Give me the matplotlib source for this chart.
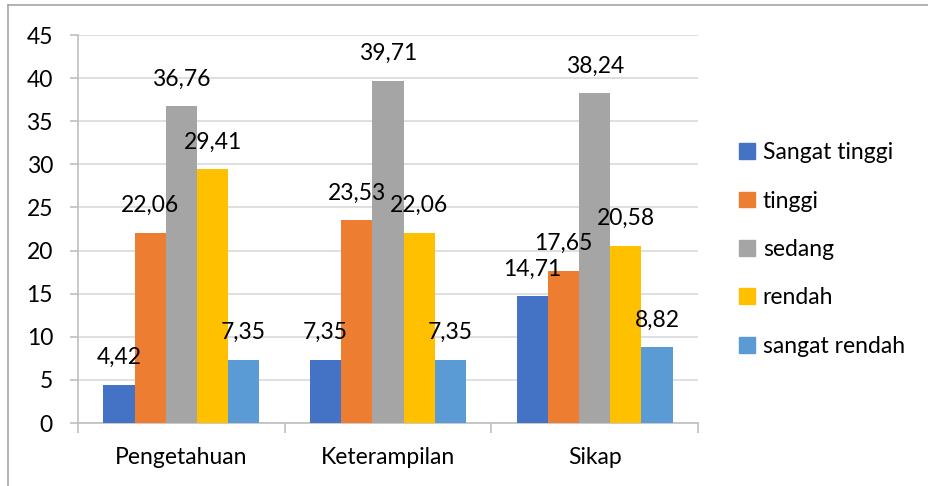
import matplotlib
matplotlib.use("Agg")
import matplotlib.pyplot as plt
from matplotlib.lines import Line2D
from matplotlib.patches import Patch
import numpy as np

plt.rcParams['font.family'] = ['Lato', 'DejaVu Sans']

categories = ["Pengetahuan", "Keterampilan", "Sikap"]
series_names = ["Sangat tinggi", "tinggi", "sedang", "rendah", "sangat rendah"]
sangat_tinggi = [4.42, 7.35, 14.71]
tinggi = [22.06, 23.53, 17.65]
sedang = [36.76, 39.71, 38.24]
rendah = [29.41, 22.06, 20.58]
sangat_rendah = [7.35, 7.35, 8.82]
series_values = [sangat_tinggi, tinggi, sedang, rendah, sangat_rendah]
colors = ["#4472C4", "#ED7D31", "#A5A5A5", "#FFC000", "#5B9BD5"]
y_ticks = [0, 5, 10, 15, 20, 25, 30, 35, 40, 45]

FS = 16.5

fig = plt.figure(figsize=(9.29, 4.86), dpi=100)
ax = fig.add_axes([78/929, 1-423/486, 620/929, 388/486])

x = np.arange(len(categories))
bw = 0.151
for i, (name, vals, c) in enumerate(zip(series_names, series_values, colors)):
    pos = x + (i - 2) * bw
    ax.bar(pos, vals, width=bw, color=c, label=name, zorder=3)
    for px, v in zip(pos, vals):
        ax.annotate(f"{v:.2f}".replace(".", ","), (px, v), xytext=(0, 19.5),
                    textcoords="offset points", ha="center", va="center",
                    fontsize=FS, color="black", zorder=5)

ax.set_xlim(-0.5, 2.5)
ax.set_ylim(0, 45)
ax.set_yticks(y_ticks)
ax.set_yticklabels([str(t) for t in y_ticks], fontsize=FS)
ax.yaxis.grid(True, color="#d9d9d9", linewidth=1.2, zorder=0)
ax.set_axisbelow(True)
for s in ["top", "right"]:
    ax.spines[s].set_visible(False)
ax.spines["left"].set_color("#bfbfbf")
ax.spines["bottom"].set_color("#bfbfbf")
ax.spines["left"].set_linewidth(1.2)
ax.spines["bottom"].set_linewidth(1.2)
ax.tick_params(axis="y", length=6, color="#bfbfbf", width=1.2, pad=12)

# x ticks at category boundaries, labels at centers
ax.set_xticks([-0.5, 0.5, 1.5, 2.5])
ax.set_xticklabels([])
ax.tick_params(axis="x", length=7, color="#bfbfbf", width=1.2)
ax.set_xticks(x, minor=True)
ax.set_xticklabels(categories, minor=True, fontsize=FS)
ax.tick_params(axis="x", which="minor", length=0, pad=17)

handles = [Patch(color=c) for c in colors]
leg = fig.legend(handles, series_names, loc="upper left",
                 bbox_to_anchor=(730/929, 1-133/486), frameon=False,
                 fontsize=FS, handlelength=0.68, handleheight=0.68,
                 handletextpad=0.35, labelspacing=1.195, borderaxespad=0)

# partial figure border
fig.add_artist(Line2D([8/929, 1], [1-5/486, 1-5/486], color="#a6a6a6", linewidth=1.2))
fig.add_artist(Line2D([8/929, 8/929], [0, 1-5/486], color="#a6a6a6", linewidth=1.2))

fig.savefig("out.png", dpi=100)
